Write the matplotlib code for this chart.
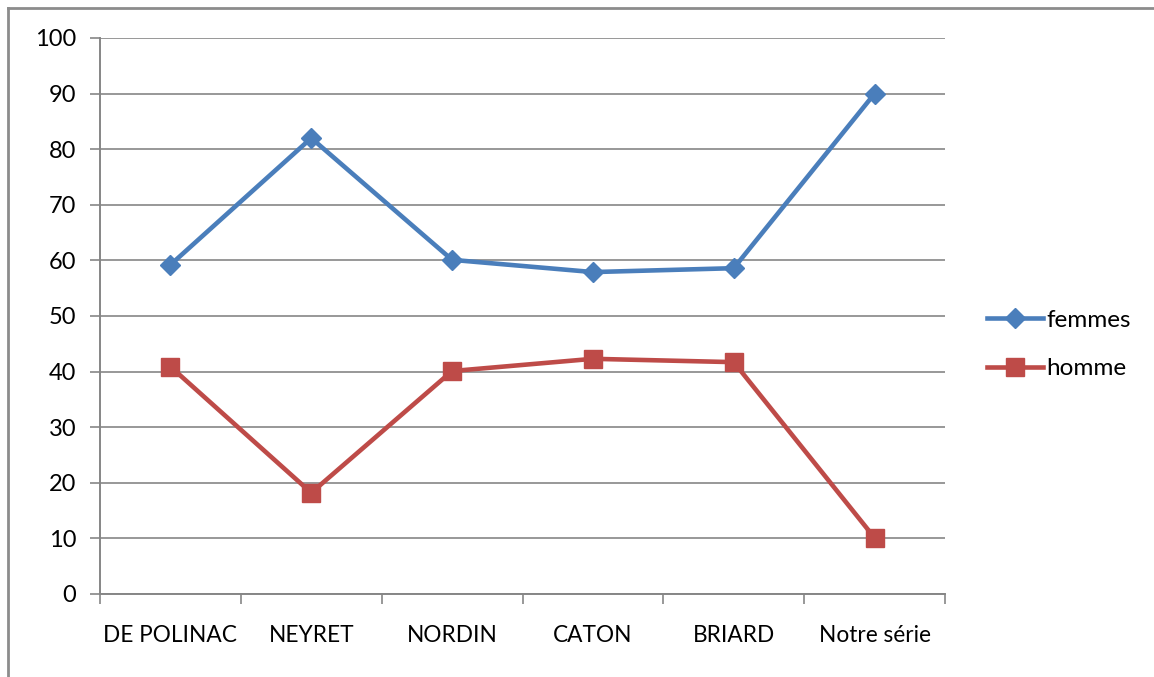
import matplotlib
matplotlib.use("Agg")
import matplotlib.pyplot as plt
from matplotlib.lines import Line2D
import numpy as np

categories = ["DE POLINAC", "NEYRET", "NORDIN", "CATON", "BRIARD", "Notre série"]
femmes = [59.2, 82.0, 60.1, 57.9, 58.6, 90.0]
homme = [40.9, 18.2, 40.1, 42.3, 41.7, 10.1]
y_ticks = [0, 10, 20, 30, 40, 50, 60, 70, 80, 90, 100]

W, H = 1154, 677
fig = plt.figure(figsize=(W / 100, H / 100), dpi=100)
plt.rcParams['font.family'] = ['Lato', 'DejaVu Sans']

ax = fig.add_axes([100 / W, 83 / H, 845 / W, 556 / H])

grid_c = "#868686"
blue = "#4A7EBB"
red = "#BE4B48"

x = np.arange(len(categories)) + 0.5
ax.plot(x, femmes, color=blue, lw=3.3, marker="D", ms=10, mec=blue, mfc=blue,
        label="femmes", zorder=3)
ax.plot(x, homme, color=red, lw=3.3, marker="s", ms=13, mec=red, mfc=red,
        label="homme", zorder=3)

ax.set_xlim(0, len(categories))
ax.set_ylim(0, 100)
ax.set_yticks(y_ticks)
ax.set_yticklabels([str(v) for v in y_ticks])
ax.yaxis.grid(True, color=grid_c, lw=1.2)
ax.set_axisbelow(True)

ax.set_xticks(np.arange(len(categories) + 1))
ax.set_xticklabels([])
ax.set_xticks(x, minor=True)
ax.set_xticklabels(categories, minor=True)
ax.tick_params(axis="x", which="minor", length=0, pad=22, labelsize=16.3)
ax.tick_params(axis="x", which="major", length=7, width=1.2, color=grid_c, direction="out")
ax.tick_params(axis="y", length=7, width=1.2, color=grid_c, direction="out", pad=10, labelsize=17)

for s in ["top", "right"]:
    ax.spines[s].set_visible(False)
for s in ["left", "bottom"]:
    ax.spines[s].set_color(grid_c)
    ax.spines[s].set_linewidth(1.4)

leg = fig.legend(loc="upper left", bbox_to_anchor=(965 / W, 1 - 288 / H), frameon=False,
                 fontsize=17.5, handlelength=2.3, handletextpad=0.15, labelspacing=1.12)

# outer chart-area frame (top and left edges)
fig.add_artist(Line2D([8 / W, 8 / W], [0, 1 - 8 / H], color="#8c8c8c", lw=2.0,
                      transform=fig.transFigure))
fig.add_artist(Line2D([8 / W, 1], [1 - 8 / H, 1 - 8 / H], color="#8c8c8c", lw=2.0,
                      transform=fig.transFigure))

fig.savefig("out.png", dpi=100)
